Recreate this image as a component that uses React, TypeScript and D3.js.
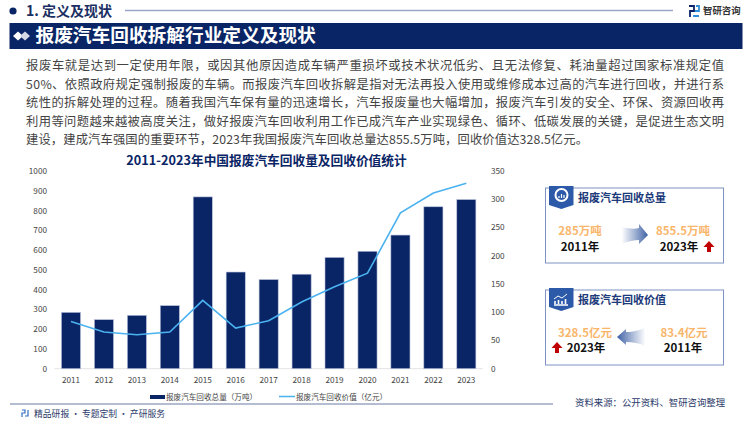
import { useEffect, useRef } from "react";
import * as d3 from "d3";

const years = ["2011", "2012", "2013", "2014", "2015", "2016", "2017", "2018", "2019", "2020", "2021", "2022", "2023"];
const volume = [285, 248, 270, 319, 869, 489, 451, 478, 563, 594, 676, 819, 855.5];
const worth = [83.4, 65, 60, 65, 121, 72, 85, 118, 145, 169, 276, 311, 328.5];
const leftTicks = [0, 100, 200, 300, 400, 500, 600, 700, 800, 900, 1000];
const rightTicks = [0, 50, 100, 150, 200, 250, 300, 350];

const paragraph = [
  "报废车就是达到一定使用年限，或因其他原因造成车辆严重损坏或技术状况低劣、且无法修复、耗油量超过国家标准规定值",
  "50%、依照政府规定强制报废的车辆。而报废汽车回收拆解是指对无法再投入使用或维修成本过高的汽车进行回收，并进行系",
  "统性的拆解处理的过程。随着我国汽车保有量的迅速增长，汽车报废量也大幅增加，报废汽车引发的安全、环保、资源回收再",
  "利用等问题越来越被高度关注，做好报废汽车回收利用工作已成汽车产业实现绿色、循环、低碳发展的关键，是促进生态文明",
  "建设，建成汽车强国的重要环节，2023年我国报废汽车回收总量达855.5万吨，回收价值达328.5亿元。",
];
const paragraphWidths = [698, 698, 698, 698, 562];

const NAVY = "#0a2566";
const LINE = "#4bb2f0";
const ORANGE = "#f9b66b";
const FONT = "'Noto Sans CJK SC', sans-serif";

export default function App() {
  const svgRef = useRef<SVGSVGElement>(null);

  useEffect(() => {
    if (!svgRef.current) return;
    const svg = d3.select(svgRef.current);
    svg.selectAll("*").remove();
    svg.attr("width", 750).attr("height", 422).style("font-family", FONT);

    const addText = (x: number, y: number, s: string, size: number, fill: string, weight = 400, anchor = "start") =>
      svg
        .append("text")
        .attr("x", x)
        .attr("y", y)
        .attr("font-size", size)
        .attr("fill", fill)
        .attr("font-weight", weight)
        .attr("text-anchor", anchor)
        .text(s);

    // Header
    svg.append("circle").attr("cx", 13).attr("cy", 11).attr("r", 3.6).attr("fill", NAVY);
    addText(26, 16, "1. 定义及现状", 14, "#1b2f63", 700);
    svg.append("line").attr("x1", 125).attr("x2", 673).attr("y1", 10.5).attr("y2", 10.5).attr("stroke", "#9aa6c8").attr("stroke-width", 1.5);
    svg.append("rect").attr("x", 9.5).attr("y", 23).attr("width", 733).attr("height", 26).attr("fill", NAVY);
    svg.append("path").attr("d", "M13 36l5-4.500 5 4.500-5 4.500z").attr("fill", "#fff");
    svg.append("path").attr("d", "M20 36l5-4.500 5 4.500-5 4.500z").attr("fill", "#d5d9e6");
    addText(35.5, 42, "报废汽车回收拆解行业定义及现状", 18.7, "#fff", 700);

    // Logo
    const logo = svg.append("g").attr("fill", "none").attr("stroke-width", 1.8);
    logo.append("path").attr("d", "M689 6h5v5h-4v6").attr("stroke", NAVY);
    logo.append("path").attr("d", "M696 6h3v5h-4M693 16h6").attr("stroke", "#2f8fd8");
    addText(703, 14, "智研咨询", 9.4, "#333", 700);

    // Paragraph
    paragraph.forEach((s, i) => {
      addText(26, 70 + i * 18.6, s, 12.3, "#444")
        .attr("textLength", paragraphWidths[i])
        .attr("lengthAdjust", "spacing");
    });

    // Chart
    addText(266.5, 165, "2011-2023年中国报废汽车回收量及回收价值统计", 12.7, NAVY, 700, "middle");

    const x = d3.scaleBand<string>().domain(years).range([54.5, 482.8]).paddingInner(0.42).paddingOuter(0.21);
    const yL = d3.scaleLinear().domain([0, 1000]).range([368.7, 171]);
    const yR = d3.scaleLinear().domain([0, 350]).range([368.7, 171]);

    svg
      .append("line")
      .attr("x1", 54.5)
      .attr("x2", 482.8)
      .attr("y1", yL(0))
      .attr("y2", yL(0))
      .attr("stroke", "#e3e3e3")
      .attr("stroke-width", 1);

    svg
      .append("g")
      .selectAll("rect")
      .data(volume)
      .join("rect")
      .attr("x", (_, i) => x(years[i])!)
      .attr("y", (d) => yL(d))
      .attr("width", x.bandwidth())
      .attr("height", (d) => yL(0) - yL(d))
      .attr("fill", NAVY)
      .attr("stroke", "#b9c2dc")
      .attr("stroke-width", 0.6);

    const worthLine = d3
      .line<number>()
      .x((_, i) => x(years[i])! + x.bandwidth() / 2)
      .y((d) => yR(d));
    svg
      .append("path")
      .attr("d", worthLine(worth)!)
      .attr("fill", "none")
      .attr("stroke", LINE)
      .attr("stroke-width", 1.6);

    leftTicks.forEach((t) => addText(47, yL(t) + 3, String(t), 8.2, "#444", 400, "end"));
    rightTicks.forEach((t) => addText(491, yR(t) + 3, String(t), 8.2, "#444"));
    years.forEach((y) => addText(x(y)! + x.bandwidth() / 2, 383, y, 8.2, "#444", 400, "middle"));

    // Legend
    svg.append("rect").attr("x", 150).attr("y", 395).attr("width", 15).attr("height", 4).attr("fill", NAVY);
    addText(166, 400, "报废汽车回收总量（万吨）", 7.6, "#444");
    svg.append("line").attr("x1", 279).attr("x2", 295).attr("y1", 396.5).attr("y2", 396.5).attr("stroke", LINE).attr("stroke-width", 1.5);
    addText(296, 400, "报废汽车回收价值（亿元）", 7.6, "#444");

    // Side cards
    const defs = svg.append("defs");
    const grad = (id: string, x1: number, x2: number) => {
      const g = defs.append("linearGradient").attr("id", id).attr("x1", x1).attr("x2", x2).attr("y1", 0).attr("y2", 0);
      g.append("stop").attr("offset", 0).attr("stop-color", "#4a6cab").attr("stop-opacity", 0.02);
      g.append("stop").attr("offset", 1).attr("stop-color", "#3d60a4");
    };
    grad("arrowR", 0, 1);
    grad("arrowL", 1, 0);

    const card = (top: number, title: string) => {
      svg.append("rect").attr("x", 545.5).attr("y", top).attr("width", 178).attr("height", 75).attr("fill", "#fff").attr("stroke", "#7e93c4").attr("stroke-width", 1);
      svg
        .append("path")
        .attr("d", `M549 ${top - 2}h24.5v19l-12.2 4-12.3-4z`)
        .attr("fill", "#2d5aa8");
      addText(578, top + 14, title, 11, "#1d3a7a", 700);
    };

    card(188, "报废汽车回收总量");
    svg.append("circle").attr("cx", 561.5).attr("cy", 195).attr("r", 6).attr("fill", "none").attr("stroke", "#fff").attr("stroke-width", 2);
    svg.append("path").attr("d", "M559 198v-2M561.500 198v-4M564 198v-3").attr("stroke", "#fff").attr("stroke-width", 1.2);
    addText(580, 234.5, "285万吨", 11.5, ORANGE, 700, "middle");
    addText(580, 251, "2011年", 11.5, "#111", 700, "middle");
    svg.append("path").attr("d", "M622 227c9 2 13 2 17 1v-4l9 11-9 9v-4c-5 0-10 1-17 4z").attr("fill", "url(#arrowR)");
    addText(683, 234.5, "855.5万吨", 11.5, ORANGE, 700, "middle");
    addText(679, 251, "2023年", 11.5, "#111", 700, "middle");
    svg.append("path").attr("d", "M707 252v-5h-3.500l5.500-6 5.500 6h-3.500v5z").attr("fill", "#c00000");

    card(290, "报废汽车回收价值");
    svg.append("path").attr("d", "M554 305h14M555 304v-3M558.500 304v-4M562 304v-3M565.500 304v-5").attr("stroke", "#fff").attr("stroke-width", 1.6);
    svg.append("path").attr("d", "M554 299l4-3 4 2 5-4").attr("fill", "none").attr("stroke", "#fff").attr("stroke-width", 1);
    addText(585, 336.5, "328.5亿元", 11.5, ORANGE, 700, "middle");
    addText(586, 352, "2023年", 11.5, "#111", 700, "middle");
    svg.append("path").attr("d", "M645 328c-6 2-11 4-19 4v-3l-9 8 9 8v-3c7 0 13 1 19 4z").attr("fill", "url(#arrowL)");
    addText(684, 336.5, "83.4亿元", 11.5, ORANGE, 700, "middle");
    addText(683, 352, "2011年", 11.5, "#111", 700, "middle");
    svg.append("path").attr("d", "M555 353v-5h-3.500l5.500-6 5.500 6h-3.500v5z").attr("fill", "#c00000");

    // Footer
    svg.append("line").attr("x1", 10).attr("x2", 553).attr("y1", 404).attr("y2", 404).attr("stroke", "#6a7aa6").attr("stroke-width", 1);
    addText(575, 405.5, "资料来源：公开资料、智研咨询整理", 9.4, "#2b3a6a");
    svg.append("path").attr("d", "M22 410h3v3h-3v4M28 410v6h-3").attr("fill", "none").attr("stroke", "#2f6fc0").attr("stroke-width", 1.2);
    addText(34, 417, "精品研报 · 专题定制 · 产研服务", 8.8, "#2b3a6a");
  }, []);

  return (
    <div style={{ position: "absolute", left: 0, top: 0 }}>
      <svg ref={svgRef} style={{ display: "block" }}></svg>
    </div>
  );
}
